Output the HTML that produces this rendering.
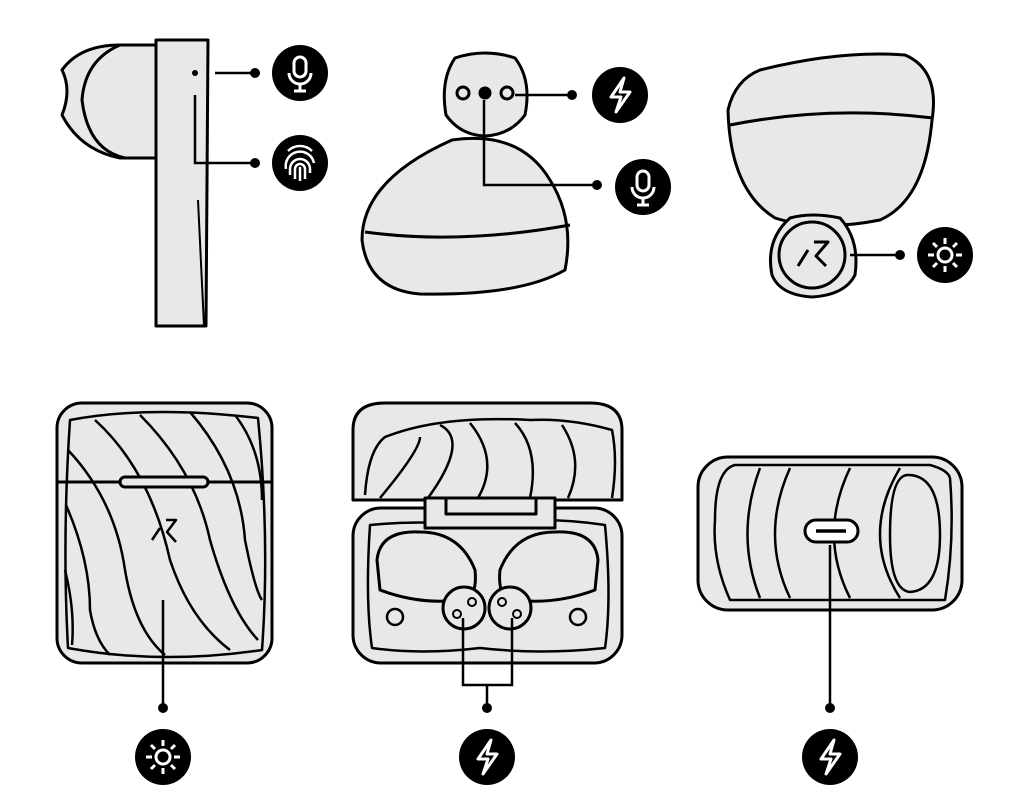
<!DOCTYPE html>
<html><head><meta charset="utf-8"><style>html,body{margin:0;padding:0;background:#fff}svg{display:block}</style></head>
<body>
<svg width="1024" height="812" viewBox="0 0 1024 812" xmlns="http://www.w3.org/2000/svg">
<defs>
<g id="mic"><circle r="28" fill="#000"/><rect x="-6" y="-16" width="12" height="20" rx="6" fill="none" stroke="#fff" stroke-width="3"/><path d="M-11 0 a11 11 0 0 0 22 0 M0 11 v7 M-6 18 h12" fill="none" stroke="#fff" stroke-width="3"/></g>
<g id="bolt"><circle r="28" fill="#000"/><path d="M4 -17 L-9 2 L1 2 L-4 17 L10 -3 L0 -3 Z" fill="none" stroke="#fff" stroke-width="3" stroke-linejoin="round"/></g>
<g id="sun"><circle r="28" fill="#000"/><circle r="7" fill="none" stroke="#fff" stroke-width="3"/><g stroke="#fff" stroke-width="3"><path d="M0 -11 v-6 M0 11 v6 M-11 0 h-6 M11 0 h6 M8 -8 l4 -4 M-8 8 l-4 4 M8 8 l4 4 M-8 -8 l-4 -4"/></g></g>
<g id="fp"><circle r="28" fill="#000"/><g fill="none" stroke="#fff" stroke-width="2.5"><path d="M-14 6 a14 14 0 0 1 28 -6 M-10 12 v-6 a10 10 0 0 1 20 0 v4 M-5 16 v-10 a5 5 0 0 1 10 0 v10 M0 4 v14 M-12 -12 a17 17 0 0 1 24 0"/></g></g>
</defs>
<g fill="#e8e8e8" stroke="#000" stroke-width="3" stroke-linejoin="round">
<!-- top left -->
<path d="M160 45 L120 45 Q80 45 62 70 Q72 90 62 115 Q80 150 120 158 L160 158 Z"/>
<path d="M120 45 Q85 60 82 100 Q88 150 125 158"/>
<path d="M156 40 L208 40 L206 326 L156 326 Z"/>
<path d="M198 200 L204 326" fill="none" stroke-width="2"/>
<!-- top middle -->
<path d="M452 140 Q362 180 362 240 Q368 290 420 294 Q520 296 565 270 Q575 220 550 180 Q520 130 452 140 Z"/>
<path d="M365 232 Q460 245 570 225" fill="none"/>
<path d="M455 58 Q485 48 515 58 Q532 80 525 115 Q510 135 485 136 Q460 135 446 115 Q440 80 455 58 Z"/>
<circle cx="463" cy="93" r="6"/><circle cx="507" cy="93" r="6"/><circle cx="485" cy="93" r="5" fill="#000"/>
<!-- top right -->
<path d="M760 70 Q840 50 905 55 Q940 70 932 120 Q925 200 880 220 Q820 232 775 218 Q730 190 728 110 Q735 80 760 70 Z"/>
<path d="M730 125 Q830 105 933 118" fill="none"/>
<path d="M790 218 Q812 212 840 218 Q860 240 855 275 Q845 295 812 297 Q780 295 772 275 Q765 240 790 218 Z"/>
<circle cx="812" cy="255" r="33"/>
<path d="M798 266 L808 250 M814 242 L828 242 L816 256 L826 266" fill="none"/>
<!-- bottom left case -->
<rect x="57" y="403" width="215" height="260" rx="25"/>
<path d="M70 420 Q150 405 258 418 Q270 540 262 650 Q160 665 68 648 Q62 540 70 420 Z" fill="none" stroke-width="2.5"/>
<g fill="none" stroke-width="2.5">
<path d="M95 420 Q150 470 170 560 Q190 620 230 650"/>
<path d="M140 415 Q195 470 210 540 Q230 610 258 640"/>
<path d="M190 412 Q240 470 245 540 Q255 590 262 600"/>
<path d="M235 415 Q262 450 262 500"/>
<path d="M68 450 Q115 500 125 570 Q135 630 165 655"/>
<path d="M66 505 Q90 560 90 610 Q95 640 110 655"/>
<path d="M65 570 Q75 610 72 645"/>
</g>
<path d="M57 482 L272 482" fill="none"/>
<rect x="120" y="477" width="88" height="10" rx="5"/>
<path d="M152 540 L160 528 M166 520 L176 520 L167 532 L176 542" fill="none" stroke-width="2.5"/>
<!-- bottom middle -->
<path d="M353 500 L353 430 Q353 403 385 403 L590 403 Q622 403 622 430 L622 500 Z"/>
<g fill="none" stroke-width="2.5">
<path d="M365 495 Q368 450 385 437 Q440 415 530 420 Q570 418 612 430 Q618 460 612 498"/>
<path d="M380 498 Q420 450 420 437 M428 498 Q470 440 440 425 M478 498 Q500 460 470 423 M530 498 Q540 450 515 423 M568 498 Q585 460 562 425"/>
</g>
<rect x="353" y="508" width="269" height="155" rx="28"/>
<path d="M370 525 Q420 520 470 525 Q540 515 605 525 Q612 600 605 648 Q540 655 480 648 Q420 655 372 648 Q365 600 370 525 Z" fill="none" stroke-width="2.5"/>
<rect x="425" y="498" width="130" height="30"/>
<rect x="446" y="498" width="90" height="16"/>
<path d="M377 560 Q380 530 420 532 Q460 532 475 570 Q478 600 460 600 Q420 605 380 590 Z"/>
<path d="M598 560 Q595 530 555 532 Q515 532 500 570 Q497 600 515 600 Q555 605 595 590 Z"/>
<circle cx="464" cy="608" r="21"/>
<circle cx="510" cy="608" r="21"/>
<circle cx="457" cy="614" r="4" stroke-width="2"/><circle cx="472" cy="602" r="4" stroke-width="2"/>
<circle cx="502" cy="602" r="4" stroke-width="2"/><circle cx="517" cy="614" r="4" stroke-width="2"/>
<circle cx="395" cy="617" r="8" stroke-width="2.5"/><circle cx="578" cy="617" r="8" stroke-width="2.5"/>
<!-- bottom right -->
<rect x="698" y="457" width="264" height="153" rx="30"/>
<g fill="none" stroke-width="2.5">
<path d="M950 478 Q955 540 945 600 L730 600 Q712 560 715 520 Q715 470 735 465 L930 465 Q948 470 950 478"/>
<path d="M760 468 Q735 535 760 598 M790 468 Q760 535 790 598 M850 468 Q818 535 850 598 M900 468 Q860 535 900 598"/>
<path d="M908 475 Q940 475 940 535 Q940 590 910 592 Q890 590 890 535 Q890 475 908 475 Z"/>
</g>
<rect x="805" y="520" width="53" height="22" rx="11" fill="#fff"/>
<path d="M816 531 L846 531" fill="none" stroke-width="3.5"/>
</g>
<!-- leaders -->
<g stroke="#000" stroke-width="2.5" fill="none">
<path d="M215 73 L255 73 M195 95 L195 163 L255 163"/>
<path d="M515 95 L572 95 M484 100 L484 185 L597 185"/>
<path d="M850 255 L900 255"/>
<path d="M163 600 L163 708"/>
<path d="M463 618 L463 685 L512 685 L512 618 M487 685 L487 708"/>
<path d="M830 545 L830 708"/>
</g>
<g fill="#000">
<circle cx="195" cy="73" r="3"/>
<circle cx="255" cy="73" r="5"/><circle cx="255" cy="163" r="5"/>
<circle cx="572" cy="95" r="5"/><circle cx="597" cy="185" r="5"/>
<circle cx="900" cy="255" r="5"/>
<circle cx="163" cy="708" r="5"/><circle cx="487" cy="708" r="5"/><circle cx="830" cy="708" r="5"/>
</g>
<use href="#mic" x="300" y="73"/>
<use href="#fp" x="300" y="163"/>
<use href="#bolt" x="620" y="95"/>
<use href="#mic" x="643" y="187"/>
<use href="#sun" x="945" y="255"/>
<use href="#sun" x="163" y="757"/>
<use href="#bolt" x="487" y="757"/>
<use href="#bolt" x="830" y="757"/>
</svg>
</body></html>
